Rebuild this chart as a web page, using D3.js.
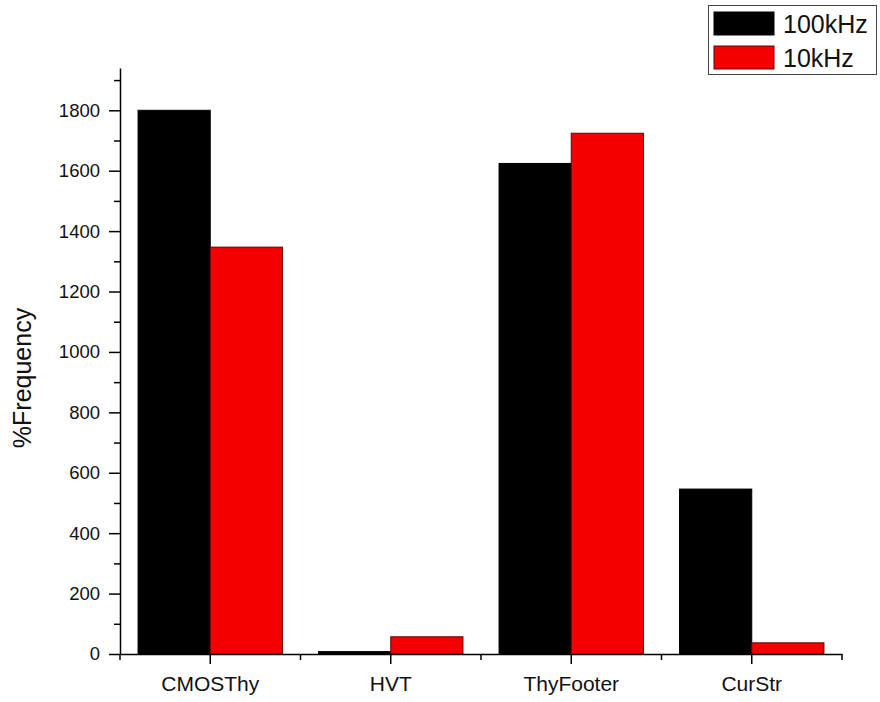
<!DOCTYPE html>
<html>
<head>
<meta charset="utf-8">
<script src="https://cdn.jsdelivr.net/npm/d3@7/dist/d3.min.js"></script>
<style>
  html, body { margin: 0; padding: 0; background: #fff; }
  svg { display: block; }
  text { font-family: Arial, "Liberation Sans", sans-serif; fill: #111; }
</style>
</head>
<body>
<svg id="chart" width="880" height="702"></svg>
<script>
// Measured switching frequency per circuit style, at two clock rates
const categories = ["CMOSThy", "HVT", "ThyFooter", "CurStr"];
const seriesNames = ["100kHz", "10kHz"];
const values100k = [1800, 8, 1624, 546];
const values10k = [1347, 57, 1724, 37];
const yMajorTicks = [0, 200, 400, 600, 800, 1000, 1200, 1400, 1600, 1800];
const yMinorTicks = [100, 300, 500, 700, 900, 1100, 1300, 1500, 1700, 1900];
const seriesColors = ["#000000", "#f40000"];
const seriesStrokes = ["#000000", "#6a0000"];

const svg = d3.select("#chart");

const plot = { left: 120, right: 842, top: 68, bottom: 654 };

const x = d3.scaleBand()
  .domain(categories)
  .range([plot.left, plot.right])
  .padding(0);

const y = d3.scaleLinear()
  .domain([0, 1940])
  .range([plot.bottom, plot.top]);

const barW = x.bandwidth() * 0.4;
const series = [values100k, values10k];

// Bars: first series left of the category centre, second series right of it
series.forEach((vals, si) => {
  svg.append("g")
    .selectAll("rect")
    .data(categories.map((c, i) => ({ c, v: vals[i] })))
    .join("rect")
    .attr("x", d => x(d.c) + x.bandwidth() / 2 - barW + si * barW)
    .attr("y", d => y(d.v))
    .attr("width", barW)
    .attr("height", d => y(0) - y(d.v))
    .attr("fill", seriesColors[si])
    .attr("stroke", seriesStrokes[si])
    .attr("stroke-width", 1);
});

// Y axis with major and minor ticks
const yAxis = svg.append("g")
  .attr("transform", `translate(${plot.left},0)`)
  .call(d3.axisLeft(y).tickValues(yMajorTicks).tickFormat(d3.format("d"))
    .tickSize(11).tickSizeOuter(0).tickPadding(9));
yAxis.selectAll(".tick text").attr("font-size", 18.5).attr("font-family", "Arial, 'Liberation Sans', sans-serif");

svg.append("g")
  .attr("transform", `translate(${plot.left},0)`)
  .call(d3.axisLeft(y).tickValues(yMinorTicks).tickSize(6).tickSizeOuter(0).tickFormat(""))
  .call(g => g.select(".domain").remove());

// X axis: ticks at category centres, short ticks at category boundaries
const xAxis = svg.append("g")
  .attr("transform", `translate(0,${plot.bottom})`)
  .call(d3.axisBottom(x).tickSize(10).tickSizeOuter(0).tickPadding(12));
xAxis.selectAll(".tick text").attr("font-size", 21).attr("font-family", "Arial, 'Liberation Sans', sans-serif");

const bounds = categories.map(c => x(c)).concat([x.range()[1]]);
svg.append("g")
  .selectAll("line")
  .data(bounds)
  .join("line")
  .attr("x1", d => d).attr("x2", d => d)
  .attr("y1", plot.bottom).attr("y2", plot.bottom + 6)
  .attr("stroke", "#000");

svg.selectAll(".domain, .tick line").attr("stroke", "#000").attr("stroke-width", 1.5);
svg.selectAll("g > line").attr("stroke-width", 1.5);

// Y axis title
svg.append("text")
  .attr("transform", `translate(31,${(plot.top + plot.bottom) / 2 + 17}) rotate(-90)`)
  .attr("text-anchor", "middle")
  .attr("font-size", 25)
  .text("%Frequency");

// Legend
const legend = svg.append("g");
legend.append("rect")
  .attr("x", 708.5).attr("y", 5.5)
  .attr("width", 168).attr("height", 69)
  .attr("fill", "#fff")
  .attr("stroke", "#444")
  .attr("stroke-width", 1);
seriesNames.forEach((name, i) => {
  legend.append("rect")
    .attr("x", 714).attr("y", 12 + i * 34)
    .attr("width", 60).attr("height", 23)
    .attr("fill", seriesColors[i])
    .attr("stroke", seriesStrokes[i])
    .attr("stroke-width", 1);
  legend.append("text")
    .attr("x", 783).attr("y", 33 + i * 34)
    .attr("font-size", 25)
    .text(name);
});
</script>
</body>
</html>
